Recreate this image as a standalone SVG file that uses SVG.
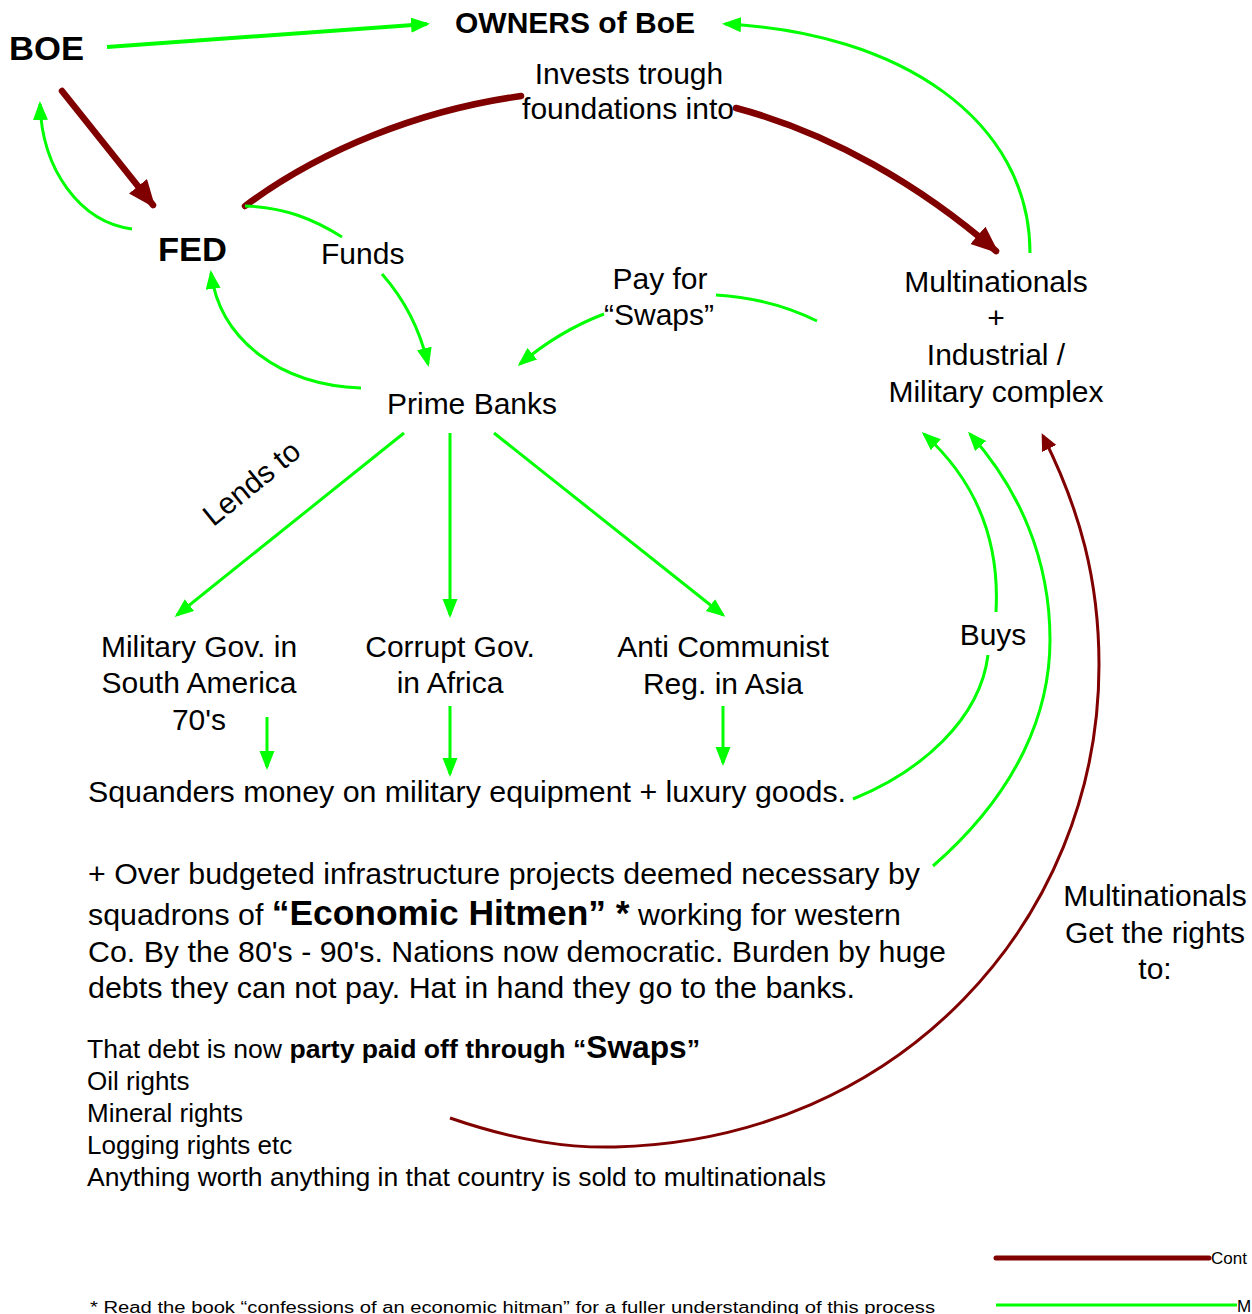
<svg xmlns="http://www.w3.org/2000/svg" width="1252" height="1314" viewBox="0 0 1252 1314">
<defs>
<style>
text{font-family:"Liberation Sans",Arial,sans-serif;fill:#000}
.t{font-size:30px}
.b{font-weight:bold}
.m{text-anchor:middle}
.s{font-size:26px}
.g{fill:none;stroke:#00ff00;stroke-width:3}
.g4{fill:none;stroke:#00ff00;stroke-width:4}
.r{fill:none;stroke:#800000;stroke-width:6.5;stroke-linecap:round}
.r3{fill:none;stroke:#800000;stroke-width:3}
</style>
<marker id="ag" markerUnits="userSpaceOnUse" markerWidth="20" markerHeight="16" refX="16" refY="7.5" orient="auto"><path d="M0,0 L19,7.5 L0,15 z" fill="#00ff00"/></marker>
<marker id="ar" markerUnits="userSpaceOnUse" markerWidth="29" markerHeight="24" refX="24" refY="11.5" orient="auto"><path d="M0,0 L28,11.5 L0,23 z" fill="#800000"/></marker>
<marker id="ar3" markerUnits="userSpaceOnUse" markerWidth="18" markerHeight="17" refX="14" refY="8" orient="auto"><path d="M0,0 L17,8 L0,16 z" fill="#800000"/></marker>
</defs>
<rect width="1252" height="1314" fill="#fff"/>

<g id="connectors">
<path class="g4" d="M107,47 L427,24" marker-end="url(#ag)"/>
<path class="r" d="M62,91 L153,205" marker-end="url(#ar)"/>
<path class="g" d="M132,229 C80,222 42,170 40,104" marker-end="url(#ag)"/>
<path class="r" d="M245,206 C320,150 420,110 521,96"/>
<path class="r" d="M736,108 C830,133 920,185 996,251" marker-end="url(#ar)"/>
<path class="g" d="M245,206 C285,207 315,220 342,237"/>
<path class="g" d="M382,274 C405,300 420,330 428,364" marker-end="url(#ag)"/>
<path class="g" d="M361,388 C280,385 220,340 211,273" marker-end="url(#ag)"/>
<path class="g" d="M1030,253 C1030,120 900,32 725,24" marker-end="url(#ag)"/>
<path class="g" d="M817,321 C785,305 750,297 716,295"/>
<path class="g" d="M604,314 C575,325 545,343 520,364" marker-end="url(#ag)"/>
<path class="g" d="M404,433 L177,615" marker-end="url(#ag)"/>
<path class="g" d="M450,433 L450,615" marker-end="url(#ag)"/>
<path class="g" d="M494,433 L723,615" marker-end="url(#ag)"/>
<path class="g" d="M267,717 L267,767" marker-end="url(#ag)"/>
<path class="g" d="M450,706 L450,774" marker-end="url(#ag)"/>
<path class="g" d="M723,706 L723,763" marker-end="url(#ag)"/>
<path class="g" d="M853,799 C920,772 980,720 988,655"/>
<path class="g" d="M996,612 C1000,540 975,480 924,434" marker-end="url(#ag)"/>
<path class="g" d="M933,866 C1020,790 1050,710 1050,640 C1050,560 1020,490 970,434" marker-end="url(#ag)"/>
<path class="r3" d="M450,1118 C520,1142 570,1148 615,1147 C900,1140 1099,920 1099,665 C1099,580 1080,510 1043,436" marker-end="url(#ar3)"/>
</g>

<g id="boe"><text class="b" x="9" y="60" font-size="34" textLength="75" lengthAdjust="spacingAndGlyphs">BOE</text></g>
<g id="owners"><text class="b" x="455" y="33" font-size="30" textLength="240" lengthAdjust="spacingAndGlyphs">OWNERS of BoE</text></g>
<g id="invests-label">
<text class="t m" x="629" y="84">Invests trough</text>
<text class="t m" x="628" y="119">foundations into</text>
</g>
<g id="fed"><text class="b" x="158" y="261" font-size="34" textLength="69" lengthAdjust="spacingAndGlyphs">FED</text></g>
<g id="funds-label"><text class="t" x="321" y="264">Funds</text></g>
<g id="payfor-label">
<text class="t m" x="660" y="289">Pay for</text>
<text class="t m" x="659" y="325">“Swaps”</text>
</g>
<g id="multinationals">
<text class="t m" x="996" y="292">Multinationals</text>
<text class="t m" x="996" y="328">+</text>
<text class="t m" x="996" y="365">Industrial /</text>
<text class="t m" x="996" y="402">Military complex</text>
</g>
<g id="prime-banks"><text class="t m" x="472" y="414">Prime Banks</text></g>
<g id="lends-label"><text class="t m" x="0" y="0" font-size="27" transform="translate(258,491) rotate(-39)">Lends to</text></g>
<g id="military-gov">
<text class="t m" x="199" y="657">Military Gov. in</text>
<text class="t m" x="199" y="693">South America</text>
<text class="t m" x="199" y="730">70's</text>
</g>
<g id="corrupt-gov">
<text class="t m" x="450" y="657">Corrupt Gov.</text>
<text class="t m" x="450" y="693">in Africa</text>
</g>
<g id="anti-communist">
<text class="t m" x="723" y="657">Anti Communist</text>
<text class="t m" x="723" y="694">Reg. in Asia</text>
</g>
<g id="buys-label"><text class="t m" x="993" y="645">Buys</text></g>
<g id="squanders"><text class="t" x="88" y="802" textLength="758" lengthAdjust="spacingAndGlyphs">Squanders money on military equipment + luxury goods.</text></g>
<g id="paragraph">
<text class="t" x="88" y="884" textLength="832" lengthAdjust="spacingAndGlyphs">+ Over budgeted infrastructure projects deemed necessary by</text>
<text class="t" x="88" y="925" textLength="813" lengthAdjust="spacingAndGlyphs">squadrons of <tspan class="b" font-size="35">“Economic Hitmen” *</tspan> working for western</text>
<text class="t" x="88" y="962" textLength="858" lengthAdjust="spacingAndGlyphs">Co. By the 80's - 90's. Nations now democratic. Burden by huge</text>
<text class="t" x="88" y="998" textLength="767" lengthAdjust="spacingAndGlyphs">debts they can not pay. Hat in hand they go to the banks.</text>
</g>
<g id="rights-label">
<text class="t m" x="1155" y="906">Multinationals</text>
<text class="t m" x="1155" y="943">Get the rights</text>
<text class="t m" x="1155" y="979">to:</text>
</g>
<g id="swaps-text">
<text class="s" x="87" y="1058" textLength="613" lengthAdjust="spacingAndGlyphs">That debt is now <tspan class="b">party paid off through “<tspan font-size="31">Swaps</tspan>”</tspan></text>
<text class="s" x="87" y="1090">Oil rights</text>
<text class="s" x="87" y="1122">Mineral rights</text>
<text class="s" x="87" y="1154">Logging rights etc</text>
<text class="s" x="87" y="1186" textLength="739" lengthAdjust="spacingAndGlyphs">Anything worth anything in that country is sold to multinationals</text>
</g>
<g id="footnote"><text x="90" y="1313" font-size="16" textLength="845" lengthAdjust="spacingAndGlyphs">* Read the book “confessions of an economic hitman” for a fuller understanding of this process</text></g>
<g id="legend">
<line x1="996" y1="1258" x2="1209" y2="1258" stroke="#800000" stroke-width="5" stroke-linecap="round"/>
<text x="1211" y="1264" font-size="17">Cont</text>
<line x1="996" y1="1305" x2="1237" y2="1305" stroke="#00ff00" stroke-width="3"/>
<text x="1237" y="1312" font-size="17">M</text>
</g>
</svg>
